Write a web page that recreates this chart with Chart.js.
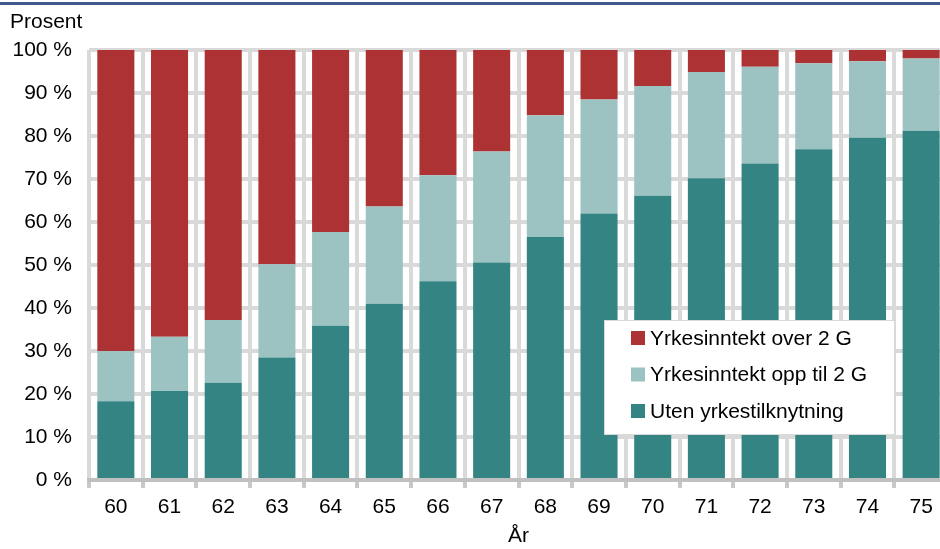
<!DOCTYPE html>
<html>
<head>
<meta charset="utf-8">
<script src="https://cdn.jsdelivr.net/npm/chart.js@4/dist/chart.umd.min.js"></script>
<style>
  html, body { margin: 0; padding: 0; background: #fff; overflow: hidden; }
  #wrap { position: relative; width: 948px; height: 549px; }
  #topline { position: absolute; left: 0; top: 2px; width: 940px; height: 3px; background: #3f5b8c; }
  #ylabel { position: absolute; left: 10px; top: 9px; font: 21px "Liberation Sans", Arial, sans-serif; color: #000; }
</style>
</head>
<body>
<div id="wrap">
  <div id="topline"></div>
  <div id="ylabel">Prosent</div>
  <canvas id="myChart" width="948" height="549"></canvas>
</div>
<script>
var ages = ["60", "61", "62", "63", "64", "65", "66", "67", "68", "69", "70", "71", "72", "73", "74", "75"];
var utenYrke = [18.3, 20.7, 22.6, 28.5, 35.9, 41.0, 46.2, 50.6, 56.5, 62.0, 66.1, 70.2, 73.6, 76.9, 79.6, 81.2];
var oppTil2G = [11.7, 12.6, 14.6, 21.7, 21.8, 22.6, 24.7, 25.8, 28.3, 26.5, 25.5, 24.7, 22.5, 20.0, 17.8, 16.8];
var over2G = [70.0, 66.7, 62.8, 49.8, 42.3, 36.4, 29.1, 23.6, 15.2, 11.5, 8.4, 5.1, 3.9, 3.1, 2.6, 2.0];
var yTicks = [0, 10, 20, 30, 40, 50, 60, 70, 80, 90, 100];

var FONT = '"Liberation Sans", Arial, sans-serif';

// legend box drawn inside the plot, newest series first
var boxLegend = {
  id: 'boxLegend',
  afterDraw: function(chart) {
    var ctx = chart.ctx;
    var x = 604, y = 320, w = 290, h = 114;
    ctx.save();
    ctx.fillStyle = '#fff';
    ctx.fillRect(x, y, w, h);
    ctx.strokeStyle = '#d9d9d9';
    ctx.lineWidth = 1;
    ctx.strokeRect(x + 0.5, y + 0.5, w, h);
    ctx.font = '21px ' + FONT;
    ctx.textBaseline = 'middle';
    var sets = chart.data.datasets.slice().reverse();
    sets.forEach(function(ds, i) {
      var cy = 338 + i * 36.5;
      ctx.fillStyle = ds.backgroundColor;
      ctx.fillRect(631, cy - 7, 14, 14);
      ctx.fillStyle = '#000';
      ctx.fillText(ds.label, 650, cy + 1);
    });
    ctx.restore();
  }
};

var ctx = document.getElementById('myChart');
var chart = new Chart(ctx, {
  type: 'bar',
  data: {
    labels: ages,
    datasets: [
      { label: 'Uten yrkestilknytning', data: utenYrke, backgroundColor: '#348484' },
      { label: 'Yrkesinntekt opp til 2 G', data: oppTil2G, backgroundColor: '#9cc2c2' },
      { label: 'Yrkesinntekt over 2 G', data: over2G, backgroundColor: '#ad3233' }
    ]
  },
  options: {
    responsive: false,
    animation: false,
    layout: { padding: { top: 50, left: 0, right: 0, bottom: 0 } },
    plugins: {
      legend: { display: false },
      tooltip: { enabled: false }
    },
    datasets: {
      bar: { categoryPercentage: 1, barPercentage: 0.69 }
    },
    scales: {
      x: {
        stacked: true,
        grid: { offset: true, color: '#d9d9d9', lineWidth: 4, tickColor: '#c8c8c8', tickLength: 8, tickWidth: 4 },
        border: { color: '#c0c0c0', width: 4 },
        ticks: { color: '#000', font: { family: FONT, size: 21 }, padding: 7, maxRotation: 0 },
        title: { display: true, text: 'År', color: '#000', font: { family: FONT, size: 21 }, padding: { top: 5, bottom: 0 } },
        afterFit: function(scale) { scale.height = 69; }
      },
      y: {
        stacked: true,
        min: 0,
        max: 100,
        afterBuildTicks: function(scale) {
          scale.ticks = yTicks.map(function(v) { return { value: v }; });
        },
        grid: { color: '#d9d9d9', lineWidth: 4, drawTicks: false },
        border: { display: false },
        ticks: {
          color: '#000',
          font: { family: FONT, size: 21 },
          padding: 17,
          callback: function(v) { return v + ' %'; }
        },
        afterFit: function(scale) { scale.width = 89; }
      }
    }
  },
  plugins: [boxLegend]
});
</script>
</body>
</html>
